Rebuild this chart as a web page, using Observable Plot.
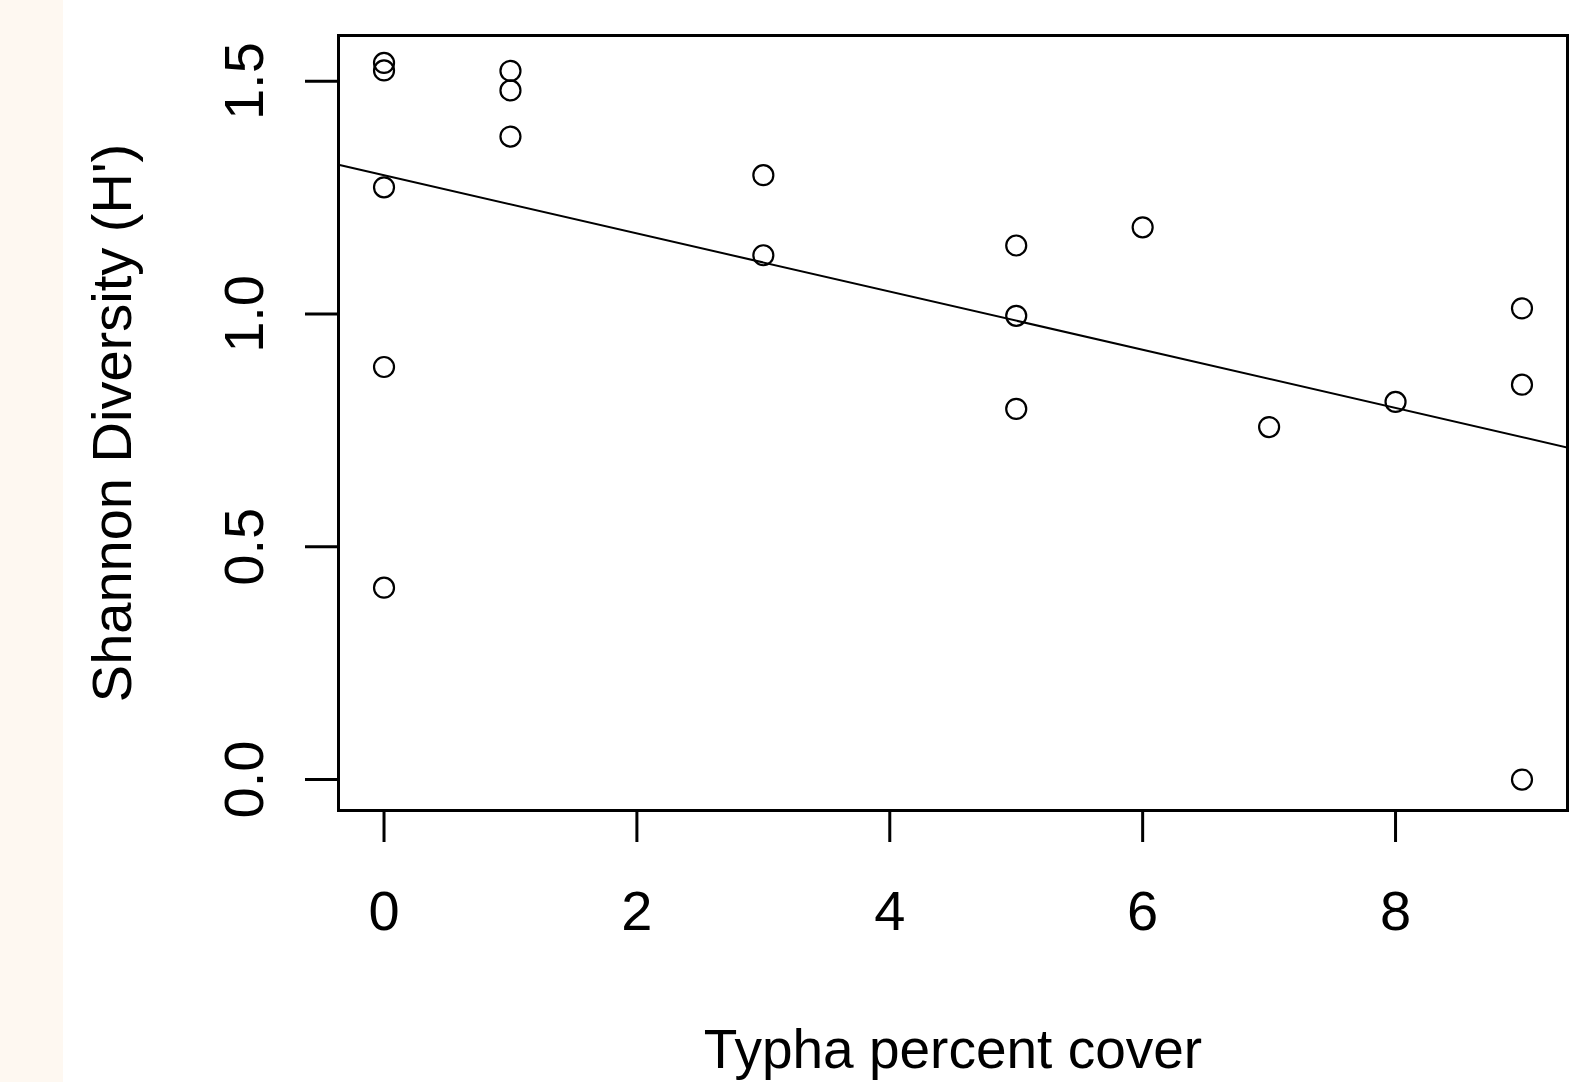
<!DOCTYPE html>
<html>
<head>
<meta charset="utf-8">
<script src="https://cdn.jsdelivr.net/npm/d3@7"></script>
<script src="https://cdn.jsdelivr.net/npm/@observablehq/plot@0.6"></script>
<style>
  html, body { margin: 0; padding: 0; }
  body { width: 1574px; height: 1082px; overflow: hidden;
         background: linear-gradient(to right, #fef8f1 63px, #ffffff 63px); }
  #chart svg { display: block; }
</style>
</head>
<body>
<div id="chart"></div>
<script>
// Typha percent cover (x) and Shannon diversity H' (y)
const typhaCover = [0, 0, 0, 0, 0, 1, 1, 1, 3, 3, 5, 5, 5, 6, 7, 8, 9, 9, 9];
const shannonH   = [1.539, 1.523, 1.272, 0.886, 0.412, 1.522, 1.480, 1.381, 1.298, 1.126,
                    1.147, 0.996, 0.796, 1.186, 0.757, 0.811, 1.012, 0.848, 0.0];

// Fitted least-squares line (abline)
const fitIntercept = 1.298;
const fitSlope = -0.0625;

const xTicks = [0, 2, 4, 6, 8];
const yTicks = [0, 0.5, 1.0, 1.5];
const xDomain = [-0.36, 9.36];
const yDomain = [-0.0665, 1.598];

const xLabel = "Typha percent cover";
const yLabel = "Shannon Diversity (H')";

const points = typhaCover.map((x, i) => ({x, y: shannonH[i]}));
const fitLine = xDomain.map(x => ({x, y: fitIntercept + fitSlope * x}));

const chart = Plot.plot({
  width: 1574,
  height: 1082,
  marginLeft: 338,
  marginRight: 7,
  marginTop: 35,
  marginBottom: 272,
  style: {background: "transparent", fontFamily: "'Liberation Sans', Arial, sans-serif", color: "black"},
  x: {domain: xDomain},
  y: {domain: yDomain},
  marks: [
    Plot.axisX({ticks: xTicks, tickSize: 32, tickPadding: 48, strokeWidth: 3, fontSize: 56, label: null, tickFormat: d => String(d)}),
    Plot.axisY({ticks: yTicks, tickSize: 33, strokeWidth: 3, label: null, tickFormat: () => ""}),
    Plot.axisY({ticks: yTicks, tickSize: 0, tickPadding: 76, fontSize: 56, label: null,
                tickFormat: d3.format(".1f"), rotate: -90, textAnchor: "middle", lineAnchor: "bottom"}),
    Plot.line(fitLine, {x: "x", y: "y", stroke: "black", strokeWidth: 2, clip: true}),
    Plot.dot(points, {x: "x", y: "y", r: 10, stroke: "black", strokeWidth: 2.2, fill: "none"}),
    Plot.frame({stroke: "black", strokeWidth: 3}),
    Plot.text([xLabel], {frameAnchor: "bottom", text: d => d, dy: 257, lineAnchor: "bottom", fontSize: 55, fill: "black"}),
    Plot.text([yLabel], {frameAnchor: "left", text: d => d, dx: -208, rotate: -90, textAnchor: "middle", lineAnchor: "bottom", fontSize: 56, fill: "black"})
  ]
});
document.getElementById("chart").appendChild(chart);
</script>
</body>
</html>
